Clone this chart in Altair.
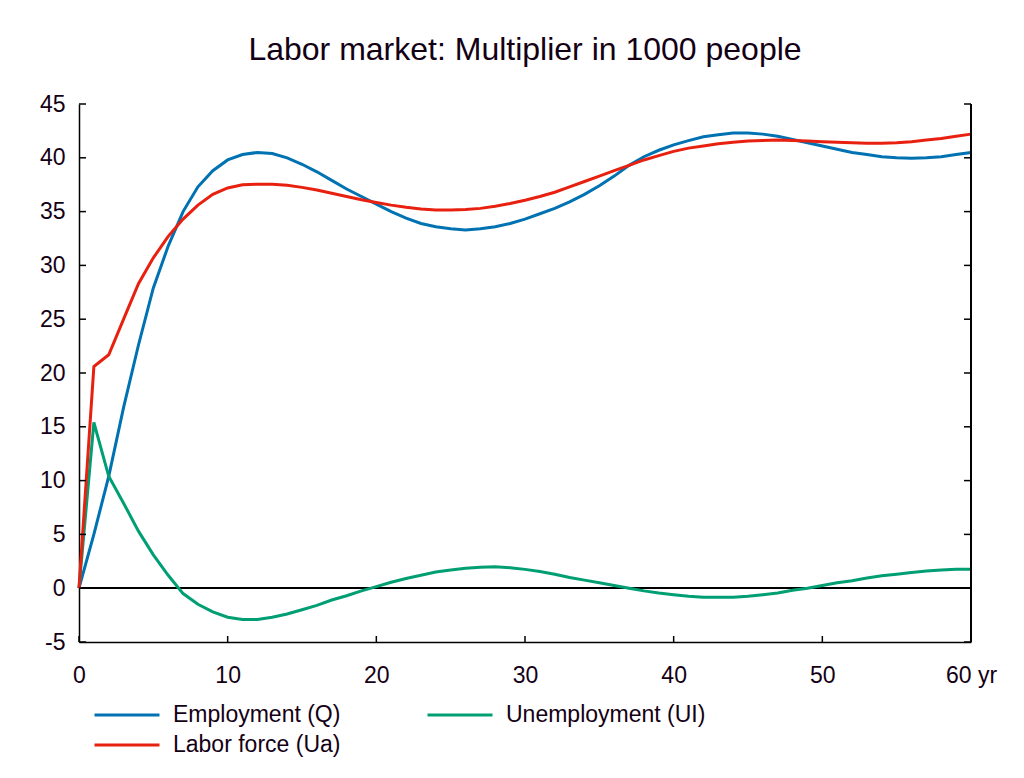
import altair as alt
import pandas as pd

years = list(range(0, 61))

employment = [0, 5.0, 10.4, 16.8, 22.6, 27.9, 31.8, 35.0, 37.3, 38.8, 39.8, 40.3, 40.5, 40.4, 40.0,
              39.4, 38.7, 37.9, 37.1, 36.4, 35.7, 35.0, 34.4, 33.9, 33.6, 33.4, 33.3, 33.4, 33.6, 33.9,
              34.3, 34.8, 35.3, 35.9, 36.6, 37.4, 38.3, 39.3, 40.1, 40.7, 41.2, 41.6, 41.95, 42.15, 42.3,
              42.3, 42.2, 42.0, 41.7, 41.4, 41.1, 40.8, 40.5, 40.3, 40.1, 40.0, 39.95, 40.0, 40.1, 40.3, 40.5]

labor_force = [0, 20.6, 21.7, 25.0, 28.3, 30.7, 32.7, 34.3, 35.6, 36.6, 37.2, 37.5, 37.55, 37.55, 37.45,
               37.25, 37.0, 36.7, 36.4, 36.1, 35.85, 35.6, 35.4, 35.25, 35.15, 35.15, 35.2, 35.3, 35.5, 35.75,
               36.05, 36.4, 36.8, 37.3, 37.8, 38.3, 38.8, 39.3, 39.8, 40.2, 40.6, 40.9, 41.1, 41.3, 41.45,
               41.55, 41.6, 41.65, 41.6, 41.55, 41.5, 41.45, 41.4, 41.35, 41.35, 41.4, 41.5, 41.65, 41.8, 42.0, 42.2]

unemployment = [0, 15.4, 10.4, 7.9, 5.3, 3.1, 1.2, -0.5, -1.5, -2.2, -2.7, -2.9, -2.9, -2.7, -2.4,
                -2.0, -1.6, -1.1, -0.7, -0.25, 0.15, 0.55, 0.9, 1.2, 1.5, 1.7, 1.85, 1.95, 2.0, 1.9,
                1.75, 1.55, 1.3, 1.0, 0.75, 0.5, 0.25, 0.0, -0.25, -0.45, -0.6, -0.75, -0.85, -0.85, -0.85,
                -0.75, -0.6, -0.45, -0.2, 0.0, 0.25, 0.5, 0.7, 0.95, 1.15, 1.3, 1.45, 1.6, 1.7, 1.75, 1.75]

series_names = ["Employment (Q)", "Unemployment (UI)", "Labor force (Ua)"]
series_colors = ["#0072B2", "#009E73", "#E8200F"]

x_ticks = [0, 10, 20, 30, 40, 50, 60]
y_ticks = [-5, 0, 5, 10, 15, 20, 25, 30, 35, 40, 45]

rows = []
for name, vals in zip(series_names, [employment, unemployment, labor_force]):
    for t, v in zip(years, vals):
        rows.append({"t": t, "value": v, "series": name})
df = pd.DataFrame(rows)
xt = pd.DataFrame({"t": x_ticks})
yt = pd.DataFrame({"v": y_ticks})

W, H = 892, 538
FONT = "Liberation Sans"
TXT = "#140014"

xscale = alt.Scale(domain=[0, 60], nice=False, zero=False)
yscale = alt.Scale(domain=[-5, 45], nice=False, zero=False)

lines = alt.Chart(df).mark_line(strokeWidth=3).encode(
    x=alt.X("t:Q", scale=xscale,
            axis=alt.Axis(values=x_ticks, title=None, grid=False, ticks=False, labelFlush=False,
                          labelOverlap=False, labelPadding=22, domainColor="black", domainWidth=1.5,
                          labelExpr="datum.value == 60 ? '60 yr' : datum.label")),
    y=alt.Y("value:Q", scale=yscale,
            axis=alt.Axis(values=y_ticks, title=None, grid=False, ticks=False, labelPadding=14,
                          domainColor="black", domainWidth=1.5,
                          labelExpr="replace(datum.label, '\u2212', '-')")),
    color=alt.Color("series:N", sort=series_names,
                    scale=alt.Scale(domain=series_names, range=series_colors),
                    legend=alt.Legend(title=None, orient="none", legendX=14, legendY=596,
                                      direction="horizontal", columns=2, symbolType="stroke",
                                      symbolSize=4225, symbolStrokeWidth=3, labelFontSize=23,
                                      labelFont=FONT, labelColor=TXT, labelOffset=12,
                                      columnPadding=85, rowPadding=0, clipHeight=30, padding=0,
                                      labelLimit=400)),
    order=alt.Order("t:Q"),
)

zero = alt.Chart(df).mark_rule(color="black", strokeWidth=1).encode(y=alt.datum(0))
right = alt.Chart(df).mark_rule(color="black", strokeWidth=1.5).encode(x=alt.datum(60))

left_ticks = alt.Chart(yt).mark_rule(color="black", strokeWidth=1.5).encode(
    y=alt.Y("v:Q", scale=yscale), x=alt.value(0), x2=alt.value(7))
right_ticks = alt.Chart(yt).mark_rule(color="black", strokeWidth=1.5).encode(
    y=alt.Y("v:Q", scale=yscale), x=alt.value(W - 7), x2=alt.value(W))
bottom_ticks = alt.Chart(xt).mark_rule(color="black", strokeWidth=1.5).encode(
    x=alt.X("t:Q", scale=xscale), y=alt.value(H), y2=alt.value(H - 6))

chart = alt.layer(zero, lines, right, left_ticks, right_ticks, bottom_ticks).properties(
    width=W, height=H,
    title=alt.Title("Labor market: Multiplier in 1000 people", font=FONT, fontSize=32,
                    fontWeight="normal", color=TXT, anchor="middle", offset=26),
    autosize=alt.AutoSizeParams(type="none"),
    padding={"left": 71, "top": 96, "right": 37, "bottom": 130},
).configure_view(stroke=None).configure_axis(
    labelFont=FONT, labelFontSize=23, labelColor=TXT
)

chart.save("out.html", embed_options={"renderer": "svg", "actions": False})
